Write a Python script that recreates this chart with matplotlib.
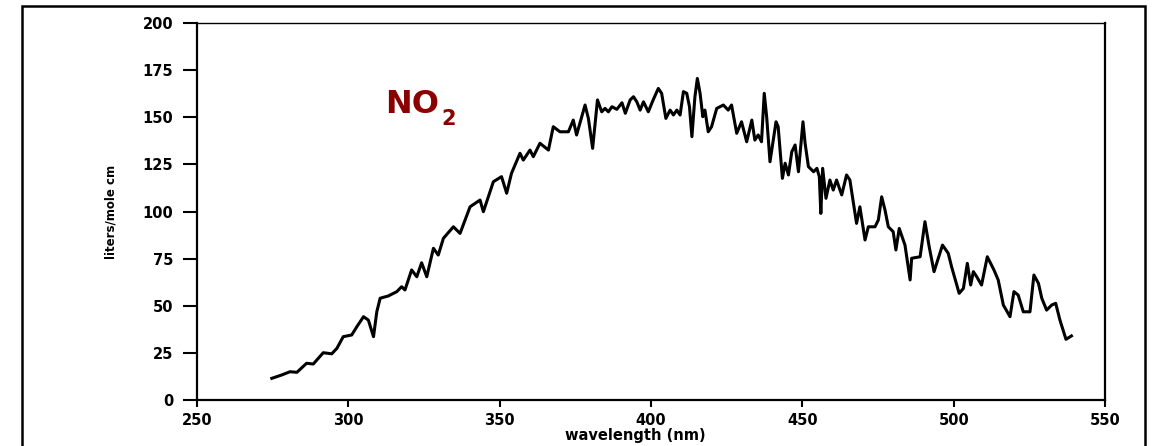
import matplotlib
matplotlib.use("Agg")
from matplotlib import pyplot as plt
from matplotlib.patches import Rectangle

wavelength = [274.7, 278.0, 280.7, 283.0, 286.2, 288.4, 291.7, 294.5, 296.2, 298.3,
              301.1, 302.8, 305.0, 306.6, 308.3, 309.4, 310.5, 313.2, 316.0, 317.6,
              318.7, 320.9, 322.6, 324.2, 325.9, 328.1, 329.7, 331.4, 334.7, 336.9,
              340.2, 343.5, 344.6, 347.9, 350.6, 352.3, 353.9, 356.7, 357.8, 360.0,
              361.1, 363.3, 366.1, 367.7, 369.9, 372.7, 374.3, 375.4, 378.2, 379.3,
              380.7, 382.3, 383.7, 384.8, 385.9, 387.1, 388.7, 390.4, 391.5, 393.1,
              394.2, 395.3, 396.4, 397.5, 399.1, 400.7, 402.4, 403.5, 404.9, 406.3,
              407.4, 408.5, 409.6, 410.7, 411.8, 412.7, 413.5, 414.5, 415.3, 416.2,
              417.1, 417.8, 418.9, 420.0, 421.7, 423.9, 425.5, 426.6, 428.3, 429.9,
              431.6, 433.3, 434.3, 435.4, 436.5, 437.4, 438.2, 439.3, 441.3, 442.0,
              443.4, 444.3, 445.4, 446.5, 447.6, 448.7, 450.2, 450.9, 452.0, 453.7,
              454.8, 455.6, 456.1, 456.7, 457.8, 459.1, 460.2, 461.3, 463.0, 464.6,
              465.7, 467.9, 469.0, 470.7, 471.8, 474.0, 475.1, 476.2, 477.3, 478.4,
              480.0, 480.9, 482.0, 483.9, 485.6, 486.1, 488.9, 490.5, 491.9, 493.5,
              496.3, 498.2, 499.3, 501.8, 503.2, 504.5, 505.6, 506.5, 507.6, 509.2,
              511.1, 513.3, 514.7, 516.4, 518.6, 519.9, 521.3, 523.0, 525.2, 526.5,
              528.0, 529.1, 530.7, 532.4, 533.7, 535.1, 537.1, 538.9]
absorb = [11.5, 13.3, 15.0, 14.7, 19.5, 19.1, 25.1, 24.5, 27.4, 33.6,
          34.5, 38.9, 44.2, 42.4, 33.6, 46.9, 54.0, 55.2, 57.5, 60.1,
          58.4, 69.0, 65.4, 72.8, 65.4, 80.5, 76.9, 85.8, 91.9, 88.4,
          102.5, 106.1, 99.9, 115.8, 118.5, 109.7, 120.3, 130.9, 127.3, 132.6,
          129.1, 136.2, 132.6, 145.0, 142.3, 142.3, 148.5, 140.6, 156.5, 149.4,
          133.5, 159.2, 152.9, 154.7, 152.9, 155.6, 154.2, 157.7, 152.1, 159.2,
          160.9, 158.2, 153.8, 158.2, 152.9, 159.2, 165.3, 162.7, 149.4, 153.8,
          151.2, 153.8, 151.2, 163.6, 162.7, 155.6, 139.7, 160.9, 170.6, 162.7,
          150.3, 153.8, 142.3, 145.0, 154.7, 156.5, 153.8, 156.5, 141.5, 147.6,
          137.0, 148.5, 137.9, 140.6, 137.0, 162.7, 150.3, 126.4, 147.6, 145.0,
          117.6, 125.6, 119.4, 131.7, 135.3, 121.1, 147.6, 136.2, 123.8, 121.1,
          122.9, 118.5, 99.0, 122.9, 107.0, 116.7, 111.4, 116.7, 108.8, 119.4,
          116.7, 93.7, 102.5, 84.9, 91.9, 91.9, 95.5, 107.8, 100.8, 91.9,
          89.3, 79.6, 91.0, 82.2, 63.7, 75.2, 76.0, 94.6, 81.3, 68.1,
          82.2, 77.8, 70.7, 56.6, 59.2, 72.5, 61.0, 68.1, 65.4, 61.0,
          76.0, 69.0, 63.7, 50.4, 44.2, 57.5, 55.7, 46.8, 46.8, 66.3,
          61.9, 54.0, 47.7, 50.4, 51.3, 42.4, 32.2, 34.0]

xticks = [250, 300, 350, 400, 450, 500, 550]
yticks = [0, 25, 50, 75, 100, 125, 150, 175, 200]

fig = plt.figure(figsize=(11.53, 4.46), dpi=100)
ax = fig.add_axes([0.1709, 0.1031, 0.7875, 0.8453])

ax.plot(wavelength, absorb, c='black', lw=2.2, solid_joinstyle='round')

ax.set_xlim(250, 550)
ax.set_ylim(0, 200)
ax.set_xticks(xticks)
ax.set_yticks(yticks)
ax.set_xticklabels([str(t) for t in xticks], fontsize=10.5, fontweight='heavy')
ax.set_yticklabels([str(t) for t in yticks], fontsize=10.5, fontweight='heavy')
ax.tick_params(axis='y', direction='out', length=10, width=1.5, pad=7)
ax.tick_params(axis='x', direction='out', length=5, width=1.5, pad=4)

for s in ['left', 'bottom', 'right']:
  ax.spines[s].set_linewidth(1.6)
ax.spines['top'].set_linewidth(1.0)

ax.set_xlabel('wavelength (nm)', fontsize=10.5, fontweight='heavy', labelpad=3)
ax.xaxis.set_label_coords(0.483, -0.075)
ax.set_ylabel('liters/mole cm', fontsize=8.5, fontweight='bold')
ax.yaxis.set_label_coords(-0.088, 0.5)

# NO2 label
ax.text(312.1, 152.3, 'NO', color='#8B0000', fontsize=23, fontweight='bold',
        va='baseline', ha='left')
ax.text(330.6, 145.9, '2', color='#8B0000', fontsize=15, fontweight='bold',
        va='baseline', ha='left')

# outer frame round the whole picture
fig.patches.append(Rectangle((0.0191, -0.05), 0.9739, 1.0365, transform=fig.transFigure,
                             fill=False, edgecolor='black', lw=1.8))

plt.savefig('out.png', dpi=100)
